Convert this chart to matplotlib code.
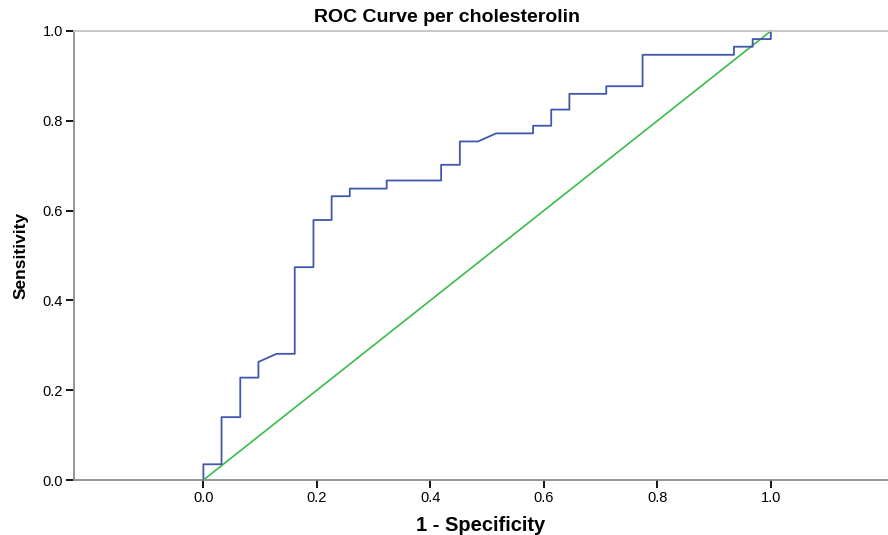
import matplotlib
matplotlib.use("Agg")
import matplotlib.pyplot as plt

plt.rcParams['font.family'] = ['Liberation Sans', 'DejaVu Sans']

# ROC curve vertices (1 - specificity, sensitivity)
fpr = [0.0, 0.0, 0.032, 0.032, 0.065, 0.065, 0.097, 0.097, 0.129, 0.161,
       0.161, 0.194, 0.194, 0.226, 0.226, 0.258, 0.258, 0.323, 0.323, 0.419,
       0.419, 0.452, 0.452, 0.484, 0.516, 0.581, 0.581, 0.613, 0.613, 0.645,
       0.645, 0.710, 0.710, 0.774, 0.774, 0.935, 0.935, 0.968, 0.968, 1.0, 1.0]
tpr = [0.0, 0.035, 0.035, 0.140, 0.140, 0.228, 0.228, 0.263, 0.281, 0.281,
       0.474, 0.474, 0.579, 0.579, 0.632, 0.632, 0.649, 0.649, 0.667, 0.667,
       0.702, 0.702, 0.754, 0.754, 0.772, 0.772, 0.789, 0.789, 0.825, 0.825,
       0.860, 0.860, 0.877, 0.877, 0.947, 0.947, 0.965, 0.965, 0.982, 0.982, 1.0]
ref_line = [0.0, 1.0]
ticks = [0.0, 0.2, 0.4, 0.6, 0.8, 1.0]

fig = plt.figure(figsize=(8.88, 5.35), dpi=100)
ax = fig.add_axes([74/888, 1 - 480/535, 1 - 74/888, 449/535])

ax.plot(ref_line, ref_line, color='#3cbb4a', lw=1.2, clip_on=False)
ax.plot(fpr, tpr, color='#3f58ae', lw=1.3, clip_on=False)

ax.set_xlim(-0.228, 1.2065)
ax.set_ylim(0, 1.0)
ax.set_xticks(ticks)
ax.set_yticks(ticks)
ax.set_xticklabels(['%.1f' % t for t in ticks])
ax.set_yticklabels(['%.1f' % t for t in ticks])
ax.tick_params(axis='both', direction='out', length=6, width=1.3, colors='black',
               labelsize=10.5, pad=2)

ax.spines['right'].set_visible(False)
ax.spines['top'].set_color('#c4c4c4')
ax.spines['left'].set_color('#8c8c8c')
ax.spines['bottom'].set_color('#8c8c8c')
for s in ax.spines.values():
    s.set_linewidth(1.3)

fig.text(0.503, 1 - 17/535, 'ROC Curve per cholesterolin', ha='center', va='center',
         fontsize=14, fontweight='bold')
ax.set_xlabel('1 - Specificity', fontsize=14.5, fontweight='bold', labelpad=8)
ax.set_ylabel('Sensitivity', fontsize=12.5, fontweight='bold', labelpad=10)

fig.savefig('out.png', dpi=100)
